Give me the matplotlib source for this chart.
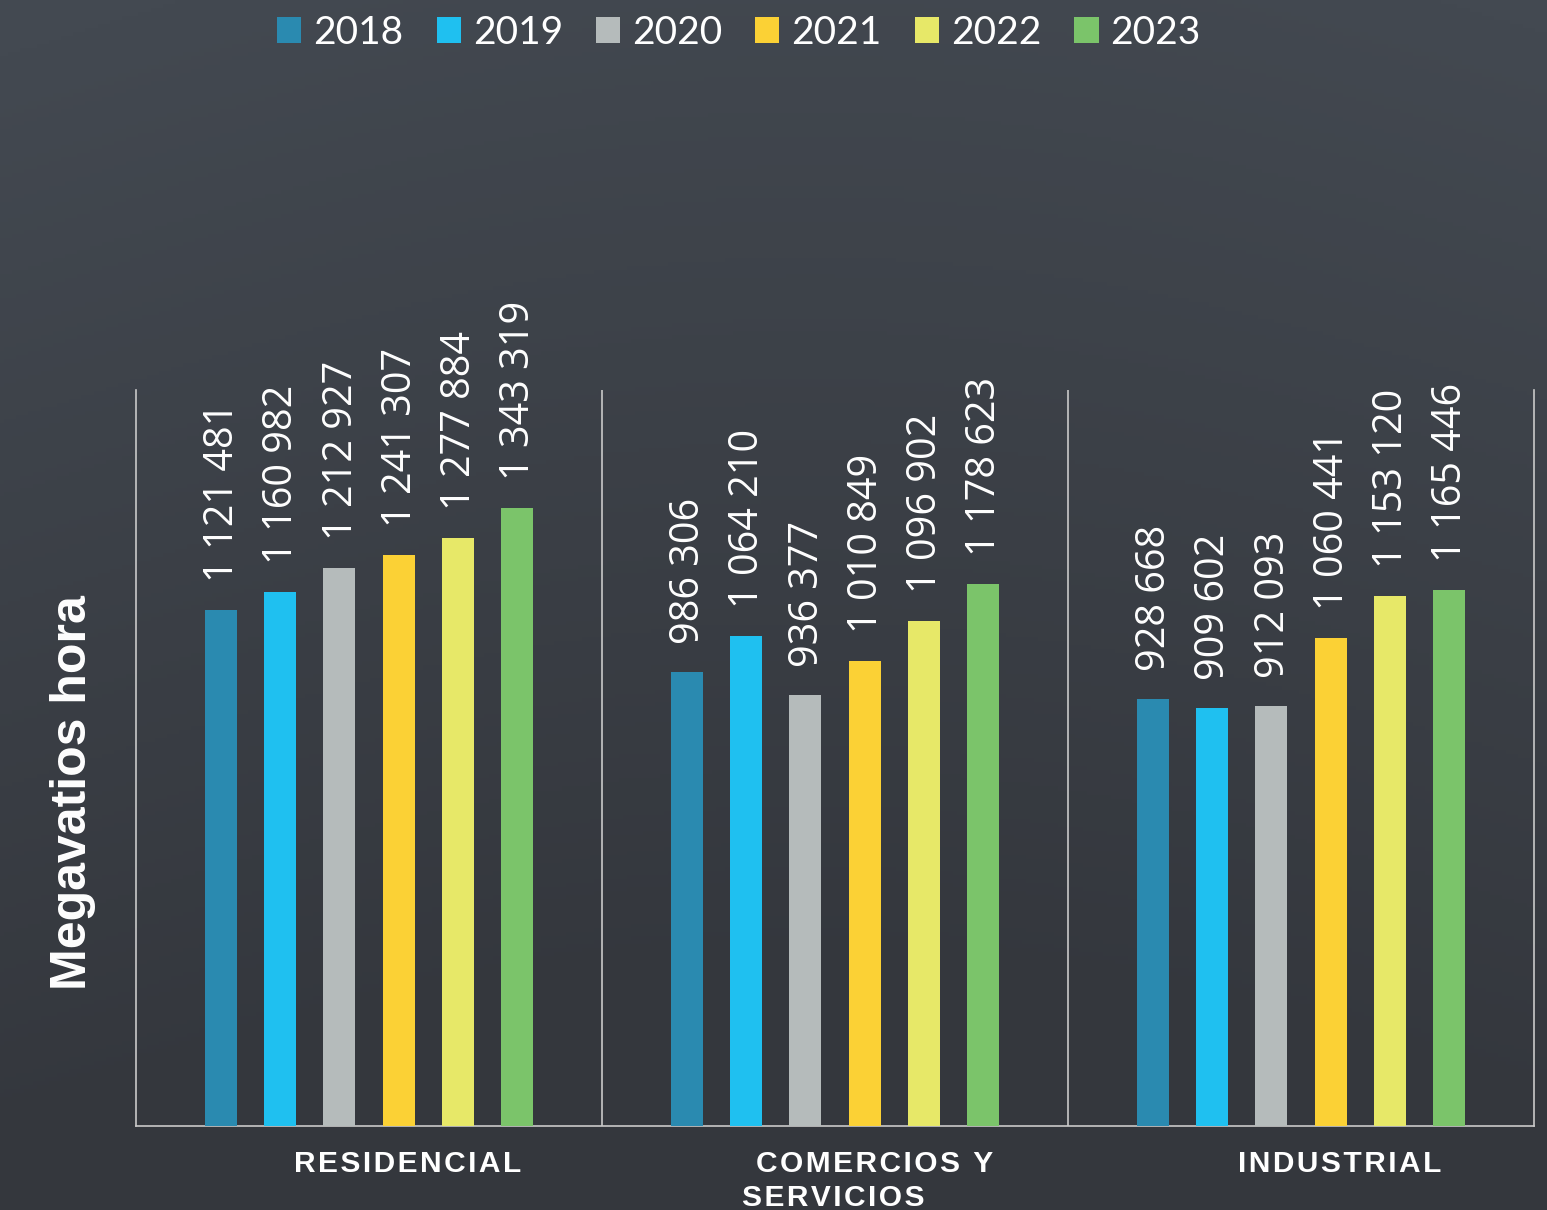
import numpy as np
import matplotlib
matplotlib.use("Agg")
import matplotlib.pyplot as plt
from matplotlib import font_manager
from matplotlib.ft2font import FT2Font
from matplotlib.patches import Patch

# ---- data ----
categories = ["RESIDENCIAL", "COMERCIOS Y SERVICIOS", "INDUSTRIAL"]
years = ["2018", "2019", "2020", "2021", "2022", "2023"]
v2018 = [1121481, 986306, 928668]
v2019 = [1160982, 1064210, 909602]
v2020 = [1212927, 936377, 912093]
v2021 = [1241307, 1010849, 1060441]
v2022 = [1277884, 1096902, 1153120]
v2023 = [1343319, 1178623, 1165446]
series = [v2018, v2019, v2020, v2021, v2022, v2023]
colors = ["#2a8ab0", "#1fc0f0", "#b5bbbb", "#fbd135", "#e7e868", "#7bc46a"]
ylabel = "Megavatios hora"

available = {f.name for f in font_manager.fontManager.ttflist}
def pick(*names):
    for n in names:
        if n in available:
            return n
    return "DejaVu Sans"

f_vals = pick("Open Sans", "Noto Sans", "DejaVu Sans")
f_leg = pick("Lato", "Open Sans", "DejaVu Sans")
f_bold = pick("Liberation Sans", "Arimo", "DejaVu Sans")

# letter spacing via hair space if the bold font has it
sep_char = ""
try:
    path = font_manager.findfont(font_manager.FontProperties(family=f_bold, weight="bold"))
    cmap = FT2Font(path).get_charmap()
    if 0x200A in cmap:
        sep_char = "\u200a"
except Exception:
    sep_char = ""

def track(s):
    return sep_char.join(s) if sep_char else s

W, H = 1547, 1210
fig = plt.figure(figsize=(W / 100, H / 100), dpi=100)

# background gradient
bg = fig.add_axes([0, 0, 1, 1], zorder=-10)
yy, xx = np.mgrid[0:1:300j, 0:1:380j]
top = np.array([67, 73, 81]) / 255.0
bot = np.array([52, 55, 61]) / 255.0
t = np.clip(yy * 1.1 + 0.15 * np.sin(xx * 3.0) - 0.05, 0, 1)[..., None]
img = top * (1 - t) + bot * t
bg.imshow(img, aspect="auto", extent=[0, 1, 0, 1], origin="upper")
bg.axis("off")

L, R = 136 / W, 1534 / W
B, T = 1 - 1126 / H, 1 - 390 / H
ax = fig.add_axes([L, B, R - L, T - B])
ax.set_facecolor("none")

x = np.arange(len(categories))
step = 0.127
width = 0.0687
linec = "#c9c9c9"
for i, (vals, c) in enumerate(zip(series, colors)):
    xs = x + (i - 2.5) * step
    ax.bar(xs, vals, width=width, color=c, zorder=3)
    for xi, v in zip(xs, vals):
        lab = f"{v:,}".replace(",", " ")
        ax.annotate(lab, (xi, v), xytext=(2, 28), textcoords="offset pixels",
                    rotation=90, ha="center", va="bottom", color="white",
                    fontsize=28.5, family=f_vals)

ax.set_xlim(-0.5, 2.5)
ax.set_ylim(0, 1600000)
ax.set_xticks([])
ax.set_yticks([])
ax.spines["top"].set_visible(False)
for s in ["left", "right", "bottom"]:
    ax.spines[s].set_color(linec)
    ax.spines[s].set_linewidth(1.2)
for sep in [0.5, 1.5]:
    ax.axvline(sep, color=linec, lw=1.2, zorder=2)

# category labels
lab_kw = dict(xycoords="data", textcoords="offset pixels", ha="center", va="center",
              color="white", fontsize=21.5, fontweight="bold", family=f_bold,
              annotation_clip=False)
ax.annotate(track("RESIDENCIAL"), (0, 0), xytext=(39, -38), **lab_kw)
ax.annotate(track("COMERCIOS Y"), (1, 0), xytext=(40, -38), **lab_kw)
ax.annotate(track("SERVICIOS"), (1, 0), xytext=(-2, -72), **lab_kw)
ax.annotate(track("INDUSTRIAL"), (2, 0), xytext=(39, -38), **lab_kw)

fig.text(73 / W, 1 - 793 / H, ylabel, rotation=90, ha="center", va="center",
         color="white", fontsize=36, fontweight="bold", family=f_bold)

handles = [Patch(facecolor=c, edgecolor="none") for c in colors]
leg = fig.legend(handles, years, loc="center", bbox_to_anchor=(739 / W, 1 - 33 / H),
                 ncol=6, frameon=False, handlelength=0.62, handleheight=0.64,
                 handletextpad=0.31, columnspacing=0.85,
                 prop={"family": f_leg, "size": 28})
for txt in leg.get_texts():
    txt.set_color("white")

fig.savefig("out.png", dpi=100, facecolor="#3b3f46")
